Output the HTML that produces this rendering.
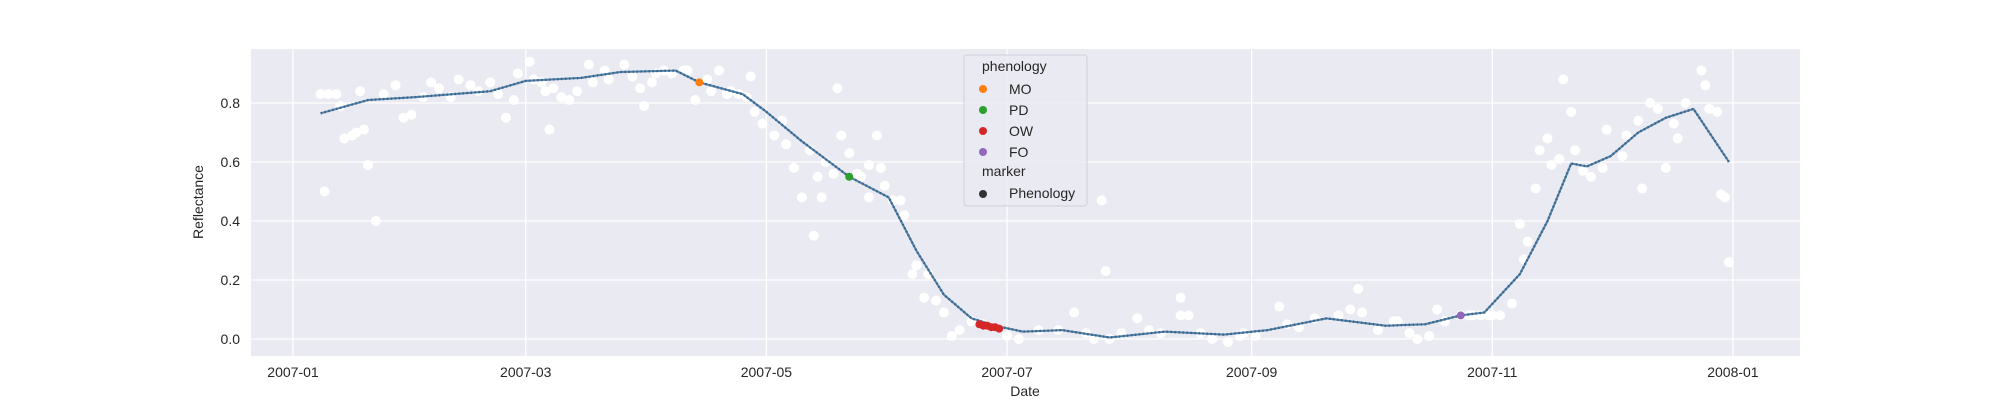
<!DOCTYPE html>
<html><head><meta charset="utf-8"><style>
body{margin:0;background:#fff;}
svg text{font-family:"Liberation Sans","DejaVu Sans",sans-serif;fill:#262626;}
</style></head><body>
<svg id="chart" width="2000" height="400" xmlns="http://www.w3.org/2000/svg">
<rect x="251" y="49" width="1549" height="307" fill="#eaeaf2"/>
<g id="grid"></g><g id="obs"></g><g id="curve"></g><g id="pheno"></g><g id="ticks"></g>
<text transform="translate(203,202) rotate(-90)" text-anchor="middle" font-size="14">Reflectance</text>
<text x="1025" y="396" text-anchor="middle" font-size="14">Date</text>
<g>
<rect x="964" y="55" width="123" height="151" rx="3" fill="#eaeaf2" fill-opacity="0.8" stroke="#d0d0d8"/>
<text x="982" y="71" font-size="14">phenology</text>
<circle cx="983" cy="89" r="4" fill="#ff7f0e"/><text x="1009" y="94" font-size="14">MO</text>
<circle cx="983" cy="110" r="4" fill="#2ca02c"/><text x="1009" y="115" font-size="14">PD</text>
<circle cx="983" cy="131" r="4" fill="#d62728"/><text x="1009" y="136" font-size="14">OW</text>
<circle cx="983" cy="152" r="4" fill="#9467bd"/><text x="1009" y="157" font-size="14">FO</text>
<text x="982" y="176" font-size="14">marker</text>
<circle cx="983" cy="194" r="4" fill="#333"/><text x="1009" y="198" font-size="14">Phenology</text>
</g>
</svg>
<script>
const xTickDays=[0,59,120,181,243,304,365];
const xTickLabels=["2007-01","2007-03","2007-05","2007-07","2007-09","2007-11","2008-01"];
const yTicks=[0.0,0.2,0.4,0.6,0.8];
const curveDays=[7,19,31,50,59,73,83,97,103,114,120,129,141,151,158,165,172,178,185,195,207,221,236,247,262,277,287,296,302,311,318,324,328,334,341,348,355,364];
const curveVals=[0.765,0.81,0.82,0.84,0.875,0.885,0.905,0.91,0.87,0.83,0.77,0.67,0.55,0.48,0.30,0.15,0.07,0.045,0.025,0.03,0.005,0.025,0.015,0.03,0.07,0.045,0.05,0.08,0.09,0.22,0.40,0.595,0.585,0.62,0.70,0.75,0.78,0.60];
const obsDays=[7,8,9,11,12,13,15,16,18,19,21,17,23,26,28,30,35,37,42,45,50,54,56,57,60,61,65,66,68,70,75,76,79,84,88,89,91,94,99,102,106,110,113,117,119,122,125,127,129,132,133,134,135,138,139,141,143,146,146,148,149,152,154,155,157,158,160,161,163,165,167,169,172,175,181,184,189,194,198,201,203,205,206,207,210,214,217,220,225,225,227,230,233,237,241,244,250,252,259,265,268,270,271,275,279,283,285,288,290,292,301,304,306,309,311,312,313,315,316,318,319,321,322,324,325,327,329,332,333,337,338,341,342,344,346,348,350,351,353,357,358,359,361,362,363,364,40,64,72,86,96,108,116,240,255,280,296,299,33,47,52,63,80,92,100,105,111,115,124,131,137,144,150,298,303];
const obsVals=[0.83,0.50,0.83,0.83,0.79,0.68,0.69,0.70,0.71,0.59,0.40,0.84,0.83,0.86,0.75,0.76,0.87,0.85,0.88,0.86,0.87,0.75,0.81,0.90,0.94,0.88,0.71,0.85,0.82,0.81,0.93,0.87,0.91,0.93,0.85,0.79,0.87,0.91,0.91,0.81,0.84,0.83,0.83,0.77,0.73,0.69,0.66,0.58,0.48,0.35,0.55,0.48,0.60,0.85,0.69,0.63,0.56,0.59,0.48,0.69,0.58,0.47,0.47,0.42,0.22,0.25,0.14,0.22,0.13,0.09,0.01,0.03,0.06,0.05,0.01,0.00,0.03,0.03,0.09,0.02,0.00,0.47,0.23,0.00,0.02,0.07,0.03,0.02,0.14,0.08,0.08,0.02,0.00,-0.01,0.02,0.01,0.11,0.05,0.07,0.08,0.10,0.17,0.09,0.03,0.06,0.02,0.00,0.01,0.10,0.06,0.08,0.08,0.08,0.12,0.39,0.27,0.33,0.51,0.64,0.68,0.59,0.61,0.88,0.77,0.64,0.57,0.55,0.58,0.71,0.62,0.69,0.74,0.51,0.80,0.78,0.58,0.73,0.68,0.80,0.91,0.86,0.78,0.77,0.49,0.48,0.26,0.82,0.84,0.84,0.89,0.90,0.91,0.89,0.01,0.04,0.06,0.08,0.08,0.82,0.84,0.83,0.87,0.88,0.90,0.91,0.88,0.84,0.82,0.74,0.64,0.56,0.55,0.52,0.08,0.08];
const phenoDays=[103,141,174,175,176,177,178,179,296];
const phenoVals=[0.87,0.55,0.05,0.045,0.045,0.04,0.04,0.035,0.08];
const phenoColors=["#ff7f0e","#2ca02c","#d62728","#d62728","#d62728","#d62728","#d62728","#d62728","#9467bd"];
const NS="http://www.w3.org/2000/svg";
function xs(d){return 293+d*3.945;}
function ys(v){return 339-v*295;}
function mk(tag,attrs,parent){const e=document.createElementNS(NS,tag);for(const k in attrs)e.setAttribute(k,attrs[k]);document.getElementById(parent).appendChild(e);return e;}
xTickDays.forEach((d,i)=>{
  const l=mk('line',{x1:xs(d),x2:xs(d),y1:49,y2:356,stroke:'#fff','stroke-width':1.3},'grid');
  
  
  const t=mk('text',{x:xs(d),y:377,'text-anchor':'middle','font-size':14},'ticks');
  t.textContent=xTickLabels[i];
  
  
});
yTicks.forEach(v=>{
  const l=mk('line',{x1:251,x2:1800,y1:ys(v),y2:ys(v),stroke:'#fff','stroke-width':1.3},'grid');
  
  
  const t=mk('text',{x:240,y:ys(v)+5,'text-anchor':'end','font-size':14},'ticks');
  t.textContent=v.toFixed(1);
  
  
});
obsDays.forEach((d,i)=>{
  const c=mk('circle',{cx:xs(d),cy:ys(obsVals[i]),r:5,fill:'#fff'},'obs');
  
  
});
const pts=curveDays.map((d,i)=>xs(d)+','+ys(curveVals[i])).join(' ');
const pl=mk('polyline',{points:pts,fill:'none',stroke:'#4f81aa','stroke-width':2,'stroke-linejoin':'round'},'curve');


const pl2=mk('polyline',{points:pts,fill:'none',stroke:'#3d6385','stroke-width':2.4,'stroke-dasharray':'1.5 2.5'},'curve');


phenoDays.forEach((d,i)=>{
  const c=mk('circle',{cx:xs(d),cy:ys(phenoVals[i]),r:4,fill:phenoColors[i]},'pheno');
  
  
});
</script>
</body></html>
